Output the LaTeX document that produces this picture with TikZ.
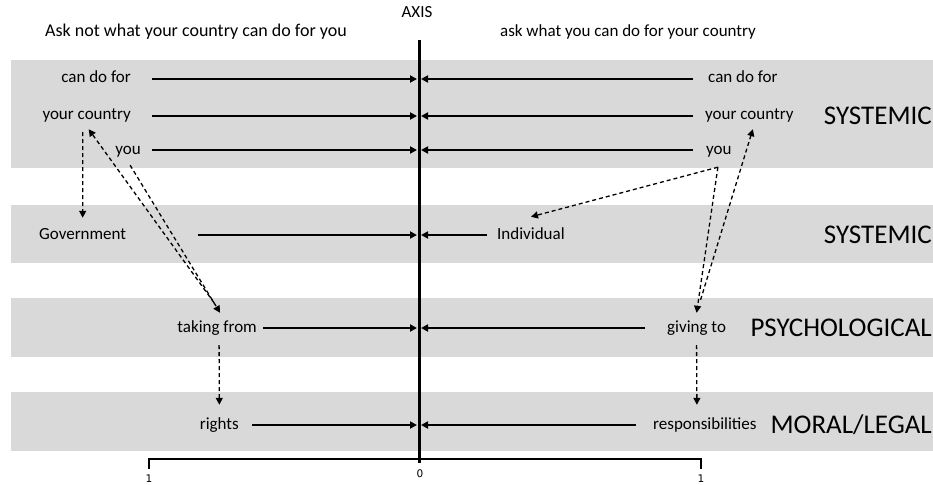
\documentclass[tikz,border=0pt]{standalone}
\usepackage{fontspec}
\setmainfont{Carlito}
\newfontfamily\digitfont{DejaVu Sans}
\usepackage{tikz}
\usetikzlibrary{arrows.meta}
\definecolor{bandgray}{HTML}{D9D9D9}
\newcommand{\arrowlw}{2pt}
\newcommand{\dashlw}{1.3pt}

\begin{document}
\begin{tikzpicture}[x=1pt,y=-1pt,
    lbl/.style={font=\fontsize{17}{20}\selectfont, inner sep=2pt, text height=12pt, text depth=4pt},
    big/.style={font=\fontsize{27}{32}\selectfont, inner sep=1pt, anchor=east},
    num/.style={font=\digitfont\fontsize{10.5}{12}\selectfont, inner sep=1pt},
    band/.style={fill=bandgray, draw=none},
    pull/.style={line width=\arrowlw, -{Triangle[length=7pt,width=7pt]}},
    link/.style={line width=\dashlw, dash pattern=on 4pt off 3pt, -{Triangle[length=7pt,width=7pt]}}]
    \useasboundingbox (0,0) rectangle (933,484);
    \fill[band] (11,60) rectangle (933,168);
    \fill[band] (11,205) rectangle (933,263);
    \fill[band] (11,298) rectangle (933,357);
    \fill[band] (11,392) rectangle (933,451);

    \draw[line width=3pt] (419,40) coordinate (axtop) -- (419,463) coordinate (axbot);
    \draw[line width=2.5pt, line join=miter] (149,469) coordinate (scaleL) -- (149,459) -- (701,459) -- (701,469) coordinate (scaleR);
    \foreach \row/\y in {a/79,b/116,c/150,d/235,e/328,f/425}{
        \coordinate (axL\row) at (417,\y);
        \coordinate (axR\row) at (421,\y);
    }

    \node[lbl] (axislbl) at (417,14) {AXIS};
    \node[lbl, font=\fontsize{18}{21}\selectfont] (askleft) at (196,33) {Ask not what your country can do for you};
    \node[lbl] (askright) at (628,33) {ask what you can do for your country};

    \node[lbl, anchor=east] (lcan) at (133,79) {can do for};
    \node[lbl, anchor=east] (lyour) at (133,116) {your country};
    \node[lbl, anchor=east] (lyou) at (143,150) {you};
    \node[lbl, anchor=west] (lgov) at (37,235) {Government};
    \node[lbl, anchor=east] (ltake) at (259,328) {taking from};
    \node[lbl, anchor=east] (lrights) at (241,425) {rights};

    \node[lbl, anchor=west] (rcan) at (706,79) {can do for};
    \node[lbl, anchor=west] (ryour) at (703,116) {your country};
    \node[lbl, anchor=west] (ryou) at (704,150) {you};
    \node[lbl, anchor=west] (rind) at (495,235) {Individual};
    \node[lbl, anchor=west] (rgive) at (665,328) {giving to};
    \node[lbl, anchor=west] (rresp) at (651,425) {responsibilities};

    \node[big] (sysA) at (933,116) {SYSTEMIC};
    \node[big] (sysB) at (933,235) {SYSTEMIC};
    \node[big] (psych) at (933,328) {PSYCHOLOGICAL};
    \node[big] (moral) at (933,425) {MORAL/LEGAL};

    \node[num] (numL) at (149,479) {1};
    \node[num] (numO) at (420,474) {0};
    \node[num] (numR) at (701,479) {1};

    \draw[pull] ([xshift=19pt]lcan.east) -- (axLa);
    \draw[pull] ([xshift=19pt]lyour.east) -- (axLb);
    \draw[pull] ([xshift=9pt]lyou.east) -- (axLc);
    \draw[pull] ([xshift=70pt]lgov.east) -- (axLd);
    \draw[pull] ([xshift=4pt]ltake.east) -- (axLe);
    \draw[pull] ([xshift=11pt]lrights.east) -- (axLf);

    \draw[pull] ([xshift=-13pt]rcan.west) -- (axRa);
    \draw[pull] ([xshift=-10pt]ryour.west) -- (axRb);
    \draw[pull] ([xshift=-11pt]ryou.west) -- (axRc);
    \draw[pull] ([xshift=-8pt]rind.west) -- (axRd);
    \draw[pull] ([xshift=-20pt]rgive.west) -- (axRe);
    \draw[pull] ([xshift=-15pt]rresp.west) -- (axRf);

    \draw[link] ([shift={(-4pt,-6pt)}]lyour.south) -- ([yshift=7pt]lgov.north);
    \draw[link] ([shift={(-3pt,15pt)}]ltake.north) -- ([shift={(2pt,-3pt)}]lyour.south);
    \draw[link] ([shift={(2pt,-5pt)}]lyou.south) -- ([shift={(3pt,5pt)}]ltake.north);
    \draw[link] ([shift={(2pt,-7pt)}]ltake.south) -- ([yshift=10pt]lrights.north);

    \coordinate (rfork) at ([shift={(-1pt,-7pt)}]ryou.south);
    \draw[link] (rfork) -- ([yshift=8pt]rind.north);
    \draw[link] (rfork) -- ([yshift=5pt]rgive.north);
    \draw[link] ([shift={(4pt,18pt)}]rgive.north) -- ([shift={(3.5pt,-3pt)}]ryour.south);
    \draw[link] ([yshift=-7pt]rgive.south) -- ([shift={(-8pt,10pt)}]rresp.north);
\end{tikzpicture}
\end{document}
